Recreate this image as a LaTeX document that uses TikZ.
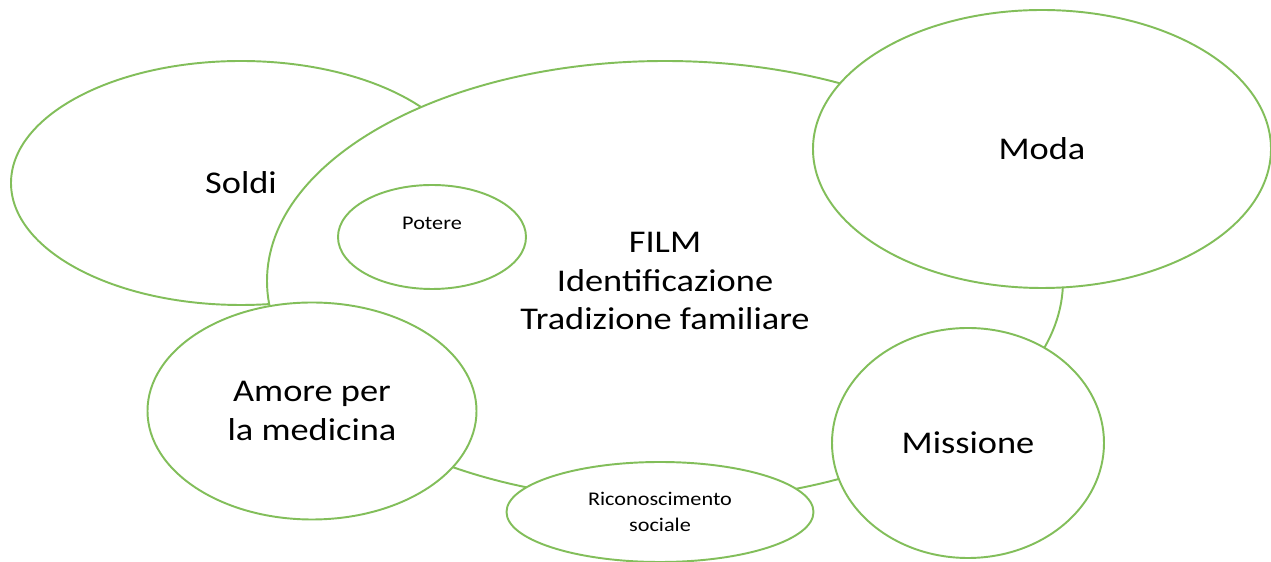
\documentclass[tikz,border=0pt]{standalone}
\usepackage{fontspec}
\setmainfont{Carlito}[FakeStretch=1.15]
\usetikzlibrary{shapes.geometric}
\definecolor{bubblegreen}{RGB}{130,190,90}
\tikzstyle{bubble} = [ellipse, draw=bubblegreen, line width=1.1pt, fill=white, inner sep=0pt, text centered, align=center, font=\fontsize{18}{22}\selectfont]
\tikzstyle{smallbubble} = [bubble, font=\fontsize{11}{15}\selectfont]

\begin{document}
\begin{tikzpicture}

\useasboundingbox (0,0) rectangle (25.42,-11.24);

% Background topic (Soldi)
\node (soldi) [bubble, minimum width=9.2cm, minimum height=4.88cm] at (4.82,-3.66) {Soldi};

% Central ellipse (FILM)
\node (film) [bubble, minimum width=15.92cm, minimum height=8.8cm] at (13.3,-5.62) {FILM\\Identificazione\\Tradizione familiare};

% Topics around the central ellipse
\node (moda) [bubble, minimum width=9.16cm, minimum height=5.56cm] at (20.84,-2.98) {Moda};
\node (amore) [bubble, minimum width=6.58cm, minimum height=4.34cm] at (6.24,-8.22) {Amore per\\la medicina};
\node (riconoscimento) [smallbubble, minimum width=6.14cm, minimum height=2.0cm] at (13.2,-10.24) {Riconoscimento\\sociale};
\node (missione) [bubble, minimum width=5.44cm, minimum height=4.6cm] at (19.36,-8.86) {Missione};

% Small ellipse inside FILM
\node (potere) [smallbubble, minimum width=3.76cm, minimum height=2.08cm, label={[font=\fontsize{11}{15}\selectfont, yshift=0.28cm]center:Potere}] at (8.64,-4.74) {};

\end{tikzpicture}
\end{document}
